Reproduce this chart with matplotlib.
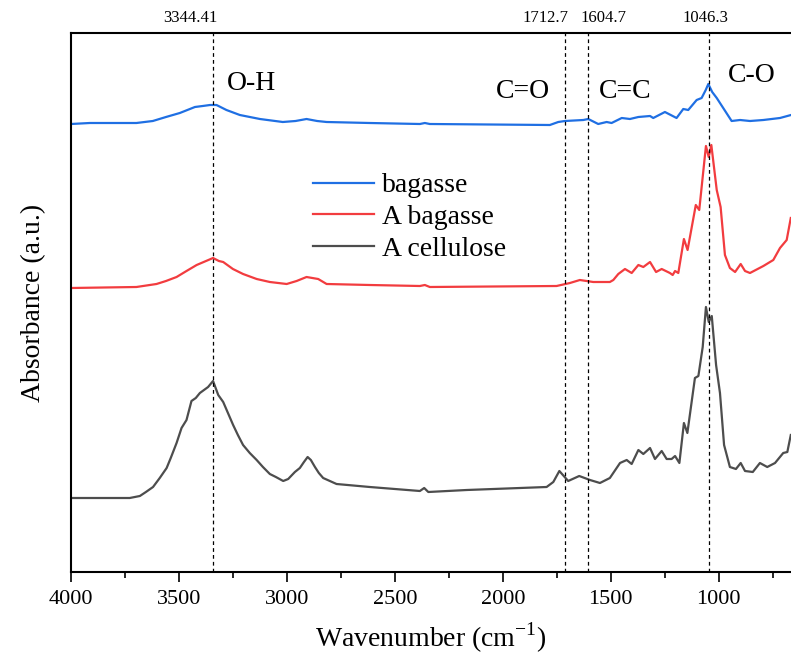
import matplotlib
matplotlib.use("Agg")
import matplotlib.pyplot as plt
from matplotlib.ticker import MultipleLocator

plt.rcParams['font.family'] = ['Liberation Serif', 'DejaVu Serif']
plt.rcParams['mathtext.fontset'] = 'custom'
plt.rcParams['mathtext.rm'] = 'Liberation Serif'

# ---- data (wavenumber, absorbance, arbitrary units with offsets) ----
bagasse_wn = [4000, 3913, 3697, 3621, 3560, 3496, 3426, 3390, 3356, 3326, 3280, 3218,
              3125, 3019, 2960, 2909, 2860, 2816, 2616, 2384, 2361, 2338, 1782, 1743,
              1712, 1627, 1604, 1558, 1519, 1496, 1449, 1411, 1372, 1318, 1303, 1249,
              1195, 1164, 1141, 1102, 1079, 1060, 1048, 1030, 1009, 979, 940, 901,
              855, 793, 716, 665]
bagasse_ab = [4.48, 4.49, 4.49, 4.51, 4.55, 4.59, 4.65, 4.66, 4.67, 4.67, 4.62, 4.57,
              4.53, 4.50, 4.51, 4.53, 4.51, 4.50, 4.49, 4.48, 4.49, 4.48, 4.47, 4.50,
              4.51, 4.52, 4.53, 4.48, 4.50, 4.49, 4.54, 4.53, 4.55, 4.56, 4.54, 4.60,
              4.54, 4.63, 4.62, 4.72, 4.74, 4.82, 4.88, 4.80, 4.74, 4.64, 4.51, 4.52,
              4.51, 4.52, 4.54, 4.57]

abag_wn = [4000, 3697, 3604, 3560, 3511, 3465, 3418, 3342, 3315, 3295, 3250, 3203,
           3140, 3079, 3001, 2955, 2909, 2855, 2816, 2616, 2384, 2361, 2338, 1751,
           1689, 1643, 1581, 1504, 1488, 1465, 1434, 1403, 1372, 1349, 1318, 1290,
           1264, 1226, 1213, 1202, 1187, 1161, 1144, 1106, 1090, 1059, 1046, 1034,
           1009, 991, 971, 948, 924, 898, 878, 855, 793, 747, 716, 685, 666]
abag_ab = [2.84, 2.85, 2.88, 2.91, 2.95, 3.01, 3.07, 3.14, 3.11, 3.10, 3.03, 2.98,
           2.93, 2.90, 2.88, 2.91, 2.95, 2.93, 2.88, 2.87, 2.86, 2.87, 2.85, 2.86,
           2.89, 2.92, 2.90, 2.90, 2.92, 2.98, 3.03, 2.99, 3.07, 3.05, 3.10, 3.00,
           3.03, 2.99, 2.97, 3.01, 2.99, 3.33, 3.22, 3.67, 3.62, 4.26, 4.15, 4.27,
           3.82, 3.65, 3.17, 3.04, 3.00, 3.08, 3.01, 2.99, 3.06, 3.12, 3.24, 3.32, 3.54]

acell_wn = [4000, 3865, 3728, 3681, 3653, 3620, 3589, 3557, 3538, 3511, 3488, 3465,
            3442, 3422, 3403, 3365, 3342, 3318, 3295, 3273, 3249, 3227, 3203, 3172,
            3140, 3111, 3079, 3051, 3017, 2994, 2963, 2940, 2921, 2904, 2889, 2870,
            2852, 2832, 2770, 2616, 2384, 2364, 2345, 2167, 1797, 1766, 1738, 1697,
            1646, 1596, 1550, 1504, 1457, 1426, 1403, 1372, 1349, 1318, 1295, 1264,
            1241, 1218, 1202, 1182, 1161, 1145, 1110, 1094, 1074, 1059, 1046, 1032,
            1012, 994, 975, 948, 920, 898, 878, 842, 809, 775, 739, 701, 682, 666]
acell_ab = [0.74, 0.74, 0.74, 0.76, 0.80, 0.85, 0.94, 1.04, 1.14, 1.29, 1.44, 1.52,
            1.71, 1.74, 1.79, 1.85, 1.91, 1.77, 1.70, 1.59, 1.47, 1.37, 1.27, 1.19,
            1.12, 1.05, 0.98, 0.95, 0.91, 0.93, 1.00, 1.04, 1.10, 1.15, 1.12, 1.05,
            0.99, 0.94, 0.88, 0.85, 0.81, 0.84, 0.80, 0.82, 0.85, 0.90, 1.01, 0.91,
            0.96, 0.92, 0.89, 0.94, 1.09, 1.12, 1.08, 1.22, 1.18, 1.24, 1.13, 1.21,
            1.13, 1.13, 1.16, 1.09, 1.49, 1.39, 1.94, 1.96, 2.25, 2.65, 2.50, 2.56,
            2.07, 1.79, 1.27, 1.05, 1.03, 1.09, 1.01, 1.00, 1.09, 1.05, 1.09, 1.19,
            1.20, 1.37]

series_names = ["bagasse", "A bagasse", "A cellulose"]
series_colors = ["#1f6fe3", "#f23c3f", "#4d4d4d"]

peak_positions = [3344.41, 1712.7, 1604.7, 1046.3]
peak_labels = ["3344.41", "1712.7", "1604.7", "1046.3"]
peak_label_shift = [-22, -19, 15, -3]   # horizontal offset of top labels (px)

group_labels = ["O-H", "C=O", "C=C", "C-O"]
group_x = [3278, 2032, 1555, 957]
group_y = [4.88, 4.81, 4.81, 4.96]

# ---- figure ----
fig = plt.figure(figsize=(7.91, 6.59), dpi=100)
ax = fig.add_axes([71/791, 1 - 572/659, 1 - 71/791, (572 - 33)/659])

for wn, ab, name, col in zip([bagasse_wn, abag_wn, acell_wn],
                             [bagasse_ab, abag_ab, acell_ab],
                             series_names, series_colors):
    ax.plot(wn, ab, color=col, lw=1.6, label=name, solid_joinstyle="round")

for p, lab, dx in zip(peak_positions, peak_labels, peak_label_shift):
    ax.axvline(p, color="black", lw=0.9, ls=(0, (3, 2.5)))
    ax.annotate(lab, xy=(p, 1.0), xycoords=("data", "axes fraction"),
                xytext=(dx * 0.72, 11), textcoords="offset points",
                ha="center", va="center", fontsize=12)

for t, gx, gy in zip(group_labels, group_x, group_y):
    ax.text(gx, gy, t, fontsize=20, ha="left", va="center")

ax.set_xlim(4000, 665)
ax.set_ylim(0, 5.39)
ax.xaxis.set_major_locator(MultipleLocator(500))
ax.xaxis.set_minor_locator(MultipleLocator(250))
ax.tick_params(axis="x", which="major", direction="out", length=7, width=1.2,
               labelsize=16, pad=6)
ax.tick_params(axis="x", which="minor", direction="out", length=4, width=1.2)
ax.set_yticks([])
for s in ["left", "bottom", "top"]:
    ax.spines[s].set_linewidth(1.5)
ax.spines["right"].set_visible(False)

ax.set_xlabel("Wavenumber (cm$^{-1}$)", fontsize=20, labelpad=8)
ax.set_ylabel("Absorbance (a.u.)", fontsize=20, labelpad=18)

leg = ax.legend(loc="upper left", bbox_to_anchor=(0.3206, 0.761), frameon=False,
                fontsize=20, handlelength=2.2, handletextpad=0.3,
                labelspacing=0.23, borderaxespad=0)

fig.savefig("out.png", dpi=100)
